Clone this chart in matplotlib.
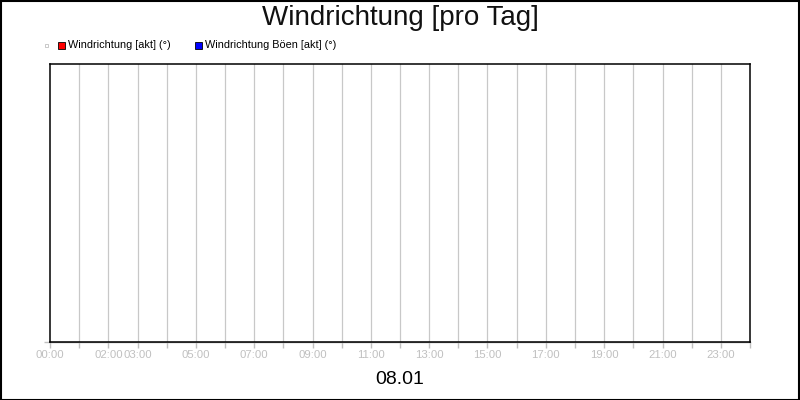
import matplotlib
matplotlib.use("Agg")
import matplotlib.pyplot as plt
from matplotlib.patches import Rectangle

plt.rcParams['font.family'] = ['Liberation Sans', 'DejaVu Sans']

title = "Windrichtung [pro Tag]"
date_label = "08.01"
series_names = ["Windrichtung [akt] (°)", "Windrichtung Böen [akt] (°)"]
series_colors = ["#ff0000", "#0000ff"]
series_x = [[], []]
series_y = [[], []]
hour_ticks = list(range(0, 25))
tick_label_hours = [0, 2, 3, 5, 7, 9, 11, 13, 15, 17, 19, 21, 23]
tick_labels = ["00:00", "02:00", "03:00", "05:00", "07:00", "09:00", "11:00",
               "13:00", "15:00", "17:00", "19:00", "21:00", "23:00"]

fig = plt.figure(figsize=(8, 4), dpi=100)
fig.patch.set_facecolor("white")
# outer border
fig.add_artist(Rectangle((0.5/800, 0.5/400), 1 - 1.5/800, 1 - 1.5/400, transform=fig.transFigure,
                         fill=False, edgecolor="black", linewidth=1.5))

ax = fig.add_axes([50/800, 1 - 342/400, 700/800, (342 - 64)/400])
ax.set_xlim(0, 24)
ax.set_ylim(0, 1)
for xs, ys, c, n in zip(series_x, series_y, series_colors, series_names):
    ax.plot(xs, ys, color=c, label=n)

for h in hour_ticks[1:-1]:
    ax.axvline(h, color="#c8c8c8", linewidth=0.9, zorder=0)

ax.set_xticks(hour_ticks)
ax.set_xticklabels(["" for _ in hour_ticks])
ax.tick_params(axis="x", length=4, color="#c0c0c0", width=1, pad=3)
ax.set_yticks([0])
ax.set_yticklabels([""])
ax.tick_params(axis="y", length=4, color="#c0c0c0", width=1)
for h, lab in zip(tick_label_hours, tick_labels):
    ax.text(h, -0.027, lab, transform=ax.get_xaxis_transform(), ha="center", va="top",
            fontsize=8.2, color="#c0c0c0")
for s in ax.spines.values():
    s.set_color("black")
    s.set_linewidth(1.1)

# gray line under bottom axis
ax.axhline(0, color="#a0a0a0", linewidth=1, clip_on=False, zorder=0)

fig.text(0.5, 1 - 18/400, title, ha="center", va="center", fontsize=20, color="#111111")
fig.text(0.5, 1 - 380/400, date_label, ha="center", va="center", fontsize=14, color="black")

# legend
fig.add_artist(Rectangle((45/800, 1 - 47/400), 3/800, 3/400, transform=fig.transFigure,
                         fill=False, edgecolor="#c0c0c0", linewidth=0.6))
leg_x = [58, 195]
for lx, c, n in zip(leg_x, series_colors, series_names):
    fig.add_artist(Rectangle((lx/800, 1 - 48.5/400), 7/800, 7/400, transform=fig.transFigure,
                             facecolor=c, edgecolor="black", linewidth=0.6))
    fig.text((lx + 10)/800, 1 - 45/400, n, ha="left", va="center", fontsize=7.8, color="black")

fig.savefig("out.png", dpi=100)
